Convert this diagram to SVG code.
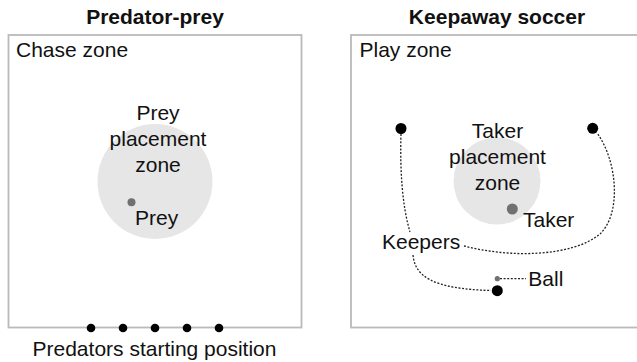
<svg xmlns="http://www.w3.org/2000/svg" width="637" height="362" viewBox="0 0 637 362">
<style>
text{font-family:"Liberation Sans",Arial,Helvetica,sans-serif;font-size:21px;fill:#111}
.title{font-weight:bold;text-anchor:middle}
.mid{text-anchor:middle}
.frame{fill:#fff;stroke:#bababa;stroke-width:1.8}
.zone{fill:#e6e6e6}
.agent{fill:#000}
.gray{fill:#707070}
.link{fill:none;stroke:#222;stroke-width:1.3;stroke-dasharray:2 1.6}
</style>
<rect width="637" height="362" fill="#fff"/>
<g id="predator-prey">
  <text class="title" x="155" y="24">Predator-prey</text>
  <g id="chase-zone">
    <rect class="frame" x="8.5" y="35" width="293" height="292.5"/>
    <text x="16" y="57">Chase zone</text>
  </g>
  <g id="prey-placement-zone">
    <circle class="zone" cx="155" cy="181.5" r="57.5"/>
    <text class="mid" x="158" y="120">Prey</text>
    <text class="mid" x="158" y="146">placement</text>
    <text class="mid" x="158" y="172">zone</text>
  </g>
  <g id="prey">
    <circle class="gray" cx="131.5" cy="202.3" r="4"/>
    <text x="135" y="224.5">Prey</text>
  </g>
  <g id="predators">
    <circle class="agent" cx="91" cy="328" r="4.3"/>
    <circle class="agent" cx="123" cy="328" r="4.3"/>
    <circle class="agent" cx="155" cy="328" r="4.3"/>
    <circle class="agent" cx="187" cy="328" r="4.3"/>
    <circle class="agent" cx="219" cy="328" r="4.3"/>
    <text class="mid" x="154.5" y="355.5">Predators starting position</text>
  </g>
</g>
<g id="keepaway-soccer">
  <text class="title" x="497" y="24">Keepaway soccer</text>
  <g id="play-zone">
    <rect class="frame" x="351" y="35" width="300" height="292.5"/>
    <text x="359.5" y="57">Play zone</text>
  </g>
  <g id="taker-placement-zone">
    <circle class="zone" cx="497" cy="181" r="43.5"/>
    <text class="mid" x="497.5" y="137.7">Taker</text>
    <text class="mid" x="497.5" y="163.7">placement</text>
    <text class="mid" x="497.5" y="189.7">zone</text>
  </g>
  <g id="connectors">
    <path class="link" d="M401,134 C400,170 402,205 410,232"/>
    <path class="link" d="M413,255 C415,276 432,289 491,290.5"/>
    <path class="link" d="M464,246 C510,258 572,257 600,234 C622,213 617,160 597,133"/>
    <path class="link" d="M500,278.7 L526,278.7"/>
  </g>
  <g id="taker">
    <circle class="gray" cx="512.3" cy="209" r="5.5"/>
    <text x="523" y="226.7">Taker</text>
  </g>
  <g id="keepers">
    <circle class="agent" cx="401" cy="128.5" r="5.5"/>
    <circle class="agent" cx="592.7" cy="128.3" r="5.5"/>
    <circle class="agent" cx="497.3" cy="290.7" r="5.5"/>
    <text x="382" y="249.3">Keepers</text>
  </g>
  <g id="ball">
    <circle class="gray" cx="497.3" cy="278.7" r="2.6"/>
    <text x="528.3" y="286">Ball</text>
  </g>
</g>
</svg>
